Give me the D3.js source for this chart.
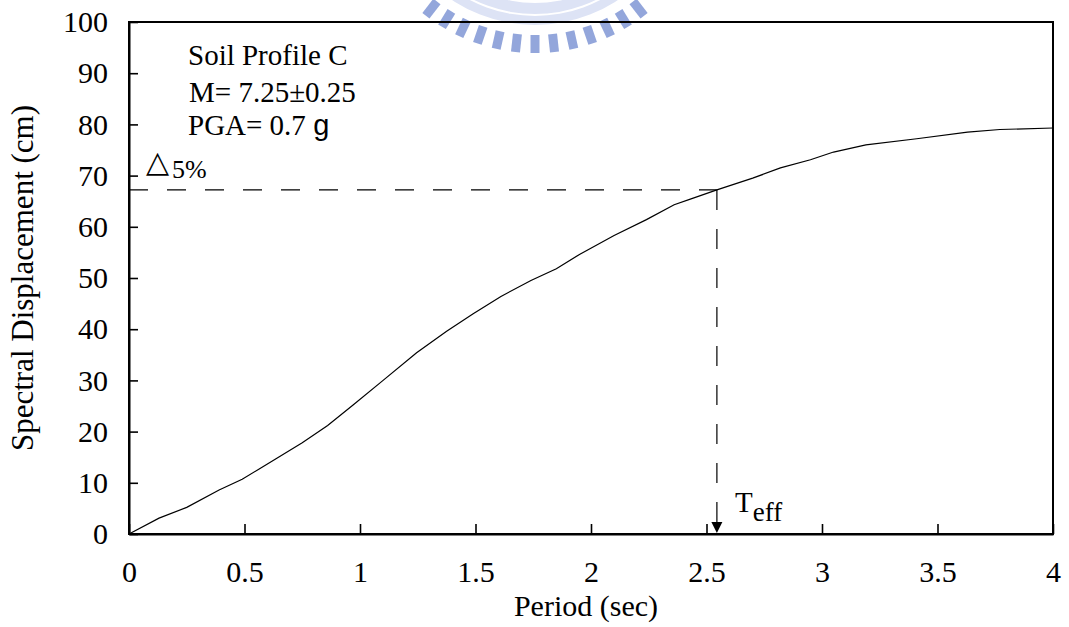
<!DOCTYPE html>
<html lang="en">
<head>
    <meta charset="UTF-8">
    <script src="https://d3js.org/d3.v7.min.js"></script>
    <style>
        body { margin: 0; background: white; }
        text { font-family: "Liberation Serif", "Times New Roman", serif; fill: black; }
    </style>
</head>
<body>
    <svg id="chart" width="1069" height="627" font-family="Liberation Serif"></svg>
    <script>
        // values
        const period = [0, 0.13, 0.25, 0.39, 0.49, 0.56, 0.64, 0.75, 0.86, 0.97, 1.10, 1.245, 1.375, 1.49, 1.61, 1.74, 1.85, 1.95, 2.10, 2.24, 2.36, 2.43, 2.545, 2.70, 2.82, 2.95, 3.05, 3.19, 3.41, 3.63, 3.77, 4.0];
        const displacement = [0, 3.1, 5.2, 8.6, 10.7, 12.6, 14.8, 17.8, 21.2, 25.2, 30.0, 35.4, 39.6, 43.0, 46.4, 49.5, 51.8, 54.6, 58.3, 61.4, 64.3, 65.4, 67.2, 69.5, 71.5, 73.1, 74.6, 76.0, 77.2, 78.5, 79.0, 79.3];
        const xTicks = [0, 0.5, 1, 1.5, 2, 2.5, 3, 3.5, 4];
        const yTicks = [0, 10, 20, 30, 40, 50, 60, 70, 80, 90, 100];
        const tEff = 2.545;
        const d5 = 67.2;

        const width = 1069, height = 627;
        const margin = { top: 22, right: 16, bottom: 93, left: 129 };

        const svg = d3.select("#chart");

        const x = d3.scaleLinear().domain([0, 4]).range([margin.left, width - margin.right]);
        const y = d3.scaleLinear().domain([0, 100]).range([height - margin.bottom, margin.top]);

        // faint watermark behind the chart (top centre)
        const wm = svg.append("g").attr("transform", "translate(535,-125)");
        wm.append("path")
            .attr("d", d3.arc()({ innerRadius: 128, outerRadius: 150, startAngle: Math.PI - 0.75, endAngle: Math.PI + 0.75 }))
            .attr("fill", "#dde3f5");
        wm.append("path")
            .attr("d", d3.arc()({ innerRadius: 139, outerRadius: 141, startAngle: Math.PI - 0.7, endAngle: Math.PI + 0.7 }))
            .attr("fill", "white");
        d3.range(-6, 7).forEach(i => {
            const a = i * 6.3;
            wm.append("rect")
                .attr("x", -4.5).attr("y", 160).attr("width", 9).attr("height", 18)
                .attr("fill", "#93a6db")
                .attr("transform", `rotate(${-a})`);
        });

        // frame
        svg.append("rect")
            .attr("x", x(0)).attr("y", y(100))
            .attr("width", x(4) - x(0)).attr("height", y(0) - y(100))
            .attr("fill", "none").attr("stroke", "black").attr("stroke-width", 2);

        const yAxis = svg.append("g")
            .attr("transform", `translate(${x(0)},0)`)
            .call(d3.axisLeft(y).tickValues(yTicks).tickSizeInner(-9).tickSizeOuter(0).tickPadding(21));
        const xAxis = svg.append("g")
            .attr("transform", `translate(0,${y(0)})`)
            .call(d3.axisBottom(x).tickValues(xTicks).tickSizeInner(-10).tickSizeOuter(0).tickPadding(27).tickFormat(d3.format("")));

        [xAxis, yAxis].forEach(g => {
            g.attr("font-family", "Liberation Serif").attr("font-size", 30);
            g.select(".domain").attr("stroke-width", 2);
            g.selectAll(".tick line").attr("stroke-width", 1.6);
            g.selectAll(".tick text").attr("fill", "black");
        });

        // curve
        const pts = period.map((p, i) => [p, displacement[i]]);
        svg.append("path")
            .datum(pts)
            .attr("fill", "none")
            .attr("stroke", "black")
            .attr("stroke-width", 1.2)
            .attr("d", d3.line().x(d => x(d[0])).y(d => y(d[1])));

        // dashed guides to T_eff
        svg.append("line")
            .attr("x1", x(0)).attr("x2", x(tEff))
            .attr("y1", y(d5)).attr("y2", y(d5))
            .attr("stroke", "black").attr("stroke-width", 1.2)
            .attr("stroke-dasharray", "19,19");
        svg.append("line")
            .attr("x1", x(tEff)).attr("x2", x(tEff))
            .attr("y1", y(d5)).attr("y2", y(0) - 11)
            .attr("stroke", "black").attr("stroke-width", 1.2)
            .attr("stroke-dasharray", "20,19");
        svg.append("path")
            .attr("d", `M${x(tEff) - 5.5},${y(0) - 12} L${x(tEff) + 5.5},${y(0) - 12} L${x(tEff)},${y(0) - 1} Z`)
            .attr("fill", "black");

        // annotations
        svg.append("text").attr("x", 188).attr("y", 65).style("font-size", "29px").text("Soil Profile C");
        svg.append("text").attr("x", 189).attr("y", 102).style("font-size", "29px").text("M= 7.25±0.25");
        const pga = svg.append("text").attr("x", 188).attr("y", 135).style("font-size", "29px");
        pga.append("tspan").text("PGA= 0.7 ");
        pga.append("tspan").style("font-family", "'Liberation Sans', Arial, sans-serif").text("g");

        svg.append("text").attr("x", 146).attr("y", 172)
            .style("font-family", "'DejaVu Sans', sans-serif").style("font-size", "30px")
            .attr("fill", "#444").text("△");
        svg.append("text").attr("x", 172).attr("y", 178).style("font-size", "26px").text("5%");

        const teff = svg.append("text").attr("x", 735).attr("y", 512).style("font-size", "29px");
        teff.append("tspan").text("T");
        teff.append("tspan").attr("dy", 9).style("font-size", "27px").text("eff");

        // axis titles
        svg.append("text")
            .attr("x", 586).attr("y", 616)
            .attr("text-anchor", "middle")
            .style("font-size", "30px")
            .text("Period (sec)");
        svg.append("text")
            .attr("transform", `translate(33,${(y(0) + y(100)) / 2}) rotate(-90)`)
            .attr("text-anchor", "middle")
            .style("font-size", "31px")
            .text("Spectral Displacement (cm)");
    </script>
</body>
</html>
